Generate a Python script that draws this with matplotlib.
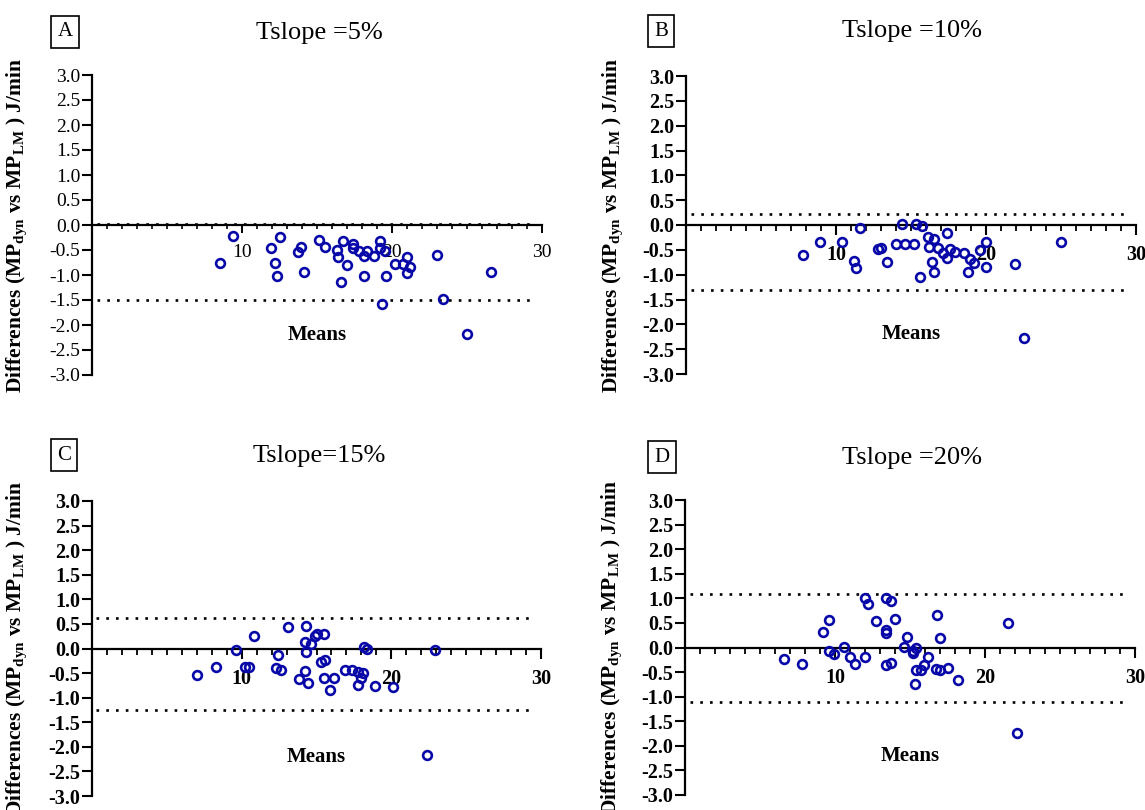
import matplotlib
matplotlib.use("Agg")
import matplotlib.pyplot as plt
from matplotlib.ticker import MultipleLocator, FixedLocator

plt.rcParams['font.family'] = ['Liberation Serif', 'DejaVu Serif']
plt.rcParams['mathtext.fontset'] = 'custom'
plt.rcParams['mathtext.rm'] = 'Liberation Serif'
plt.rcParams['mathtext.bf'] = 'Liberation Serif:bold'
plt.rcParams['mathtext.it'] = 'Liberation Serif:italic'

# ---------------- data ----------------
means_a = [8.5, 9.4, 11.9, 12.5, 12.2, 12.3, 13.7, 13.9, 14.1, 15.1, 15.5, 16.3, 16.4,
           16.6, 16.7, 17.0, 17.4, 17.4, 17.8, 18.1, 18.1, 18.3, 18.8, 19.2, 19.2, 19.5,
           19.3, 19.6, 20.2, 20.7, 21.0, 21.2, 21.0, 23.0, 23.4, 25.0, 26.6]
diffs_a = [-0.76, -0.22, -0.45, -0.24, -0.76, -1.01, -0.53, -0.43, -0.94, -0.30, -0.43,
           -0.50, -0.64, -1.14, -0.32, -0.79, -0.38, -0.45, -0.52, -0.61, -1.02, -0.52,
           -0.61, -0.32, -0.45, -0.52, -1.58, -1.02, -0.77, -0.77, -0.64, -0.84, -0.96,
           -0.59, -1.47, -2.17, -0.94]

means_b = [7.8, 8.9, 10.4, 11.2, 11.3, 11.6, 12.8, 13.0, 13.4, 14.0, 14.4, 14.6, 15.2,
           15.3, 15.6, 15.7, 16.1, 16.2, 16.4, 16.5, 16.5, 16.8, 17.1, 17.4, 17.4, 17.6,
           17.9, 18.5, 18.8, 18.9, 19.2, 19.6, 20.0, 20.0, 21.9, 22.5, 25.0]
diffs_b = [-0.60, -0.34, -0.34, -0.72, -0.86, -0.07, -0.49, -0.47, -0.74, -0.38, 0.02,
           -0.38, -0.38, 0.02, -1.04, -0.03, -0.25, -0.44, -0.74, -0.28, -0.94, -0.47,
           -0.56, -0.17, -0.67, -0.49, -0.55, -0.56, -0.94, -0.69, -0.77, -0.50, -0.35,
           -0.85, -0.79, -2.28, -0.35]

means_c = [7.0, 8.3, 9.6, 10.2, 10.5, 10.8, 12.4, 12.3, 12.6, 13.1, 13.8, 14.2, 14.2,
           14.3, 14.3, 14.4, 14.6, 14.9, 15.0, 15.3, 15.5, 15.6, 15.5, 15.9, 16.2, 16.9,
           17.4, 17.8, 17.8, 18.0, 18.1, 18.2, 18.4, 18.9, 20.1, 22.9, 22.4]
diffs_c = [-0.54, -0.38, -0.04, -0.38, -0.38, 0.26, -0.14, -0.39, -0.44, 0.43, -0.62,
           0.13, -0.45, 0.45, -0.08, -0.70, 0.10, 0.26, 0.30, -0.27, 0.29, -0.24, -0.60,
           -0.85, -0.59, -0.43, -0.43, -0.75, -0.48, -0.60, -0.50, 0.03, -0.01, -0.77,
           -0.79, -0.03, -2.17]

means_d = [6.6, 7.8, 9.2, 9.6, 9.6, 9.9, 10.6, 11.0, 11.3, 12.0, 12.2, 12.0, 12.7, 13.4,
           13.7, 13.4, 13.4, 13.4, 13.7, 14.0, 14.6, 14.8, 15.2, 15.2, 15.4, 15.3, 15.4,
           15.7, 15.9, 16.2, 16.7, 17.0, 16.8, 17.0, 17.5, 18.2, 21.5, 22.1]
diffs_d = [-0.24, -0.33, 0.31, 0.56, -0.08, -0.14, 0.01, -0.19, -0.33, 1.00, 0.88, -0.20,
           0.54, 1.00, 0.94, 0.35, 0.30, -0.35, -0.31, 0.57, 0.02, 0.22, -0.08, -0.11,
           -0.01, -0.74, -0.45, -0.45, -0.36, -0.19, -0.43, -0.45, 0.67, 0.20, -0.41,
           -0.66, 0.50, -1.74]

upper_loa = [0.02, 0.23, 0.63, 1.08]
lower_loa = [-1.50, -1.31, -1.25, -1.10]
titles = ["Tslope =5%", "Tslope =10%", "Tslope=15%", "Tslope =20%"]
letters = ["A", "B", "C", "D"]
y_ticks = [-3.0, -2.5, -2.0, -1.5, -1.0, -0.5, 0.0, 0.5, 1.0, 1.5, 2.0, 2.5, 3.0]
x_ticks = [10, 20, 30]
ylabel = r"Differences (MP$_\mathbf{dyn}$ vs MP$_\mathbf{LM}$ ) J/min"
xlabel = "Means"

all_means = [means_a, means_b, means_c, means_d]
all_diffs = [diffs_a, diffs_b, diffs_c, diffs_d]

# ---------------- layout ----------------
W, H = 1145, 810
fig = plt.figure(figsize=(W / 100, H / 100), dpi=100)

def px_rect(l, r, t, b):
    return [l / W, (H - b) / H, (r - l) / W, (b - t) / H]

rects = [px_rect(92, 542, 75, 375), px_rect(686, 1136, 76, 374),
         px_rect(92, 541, 501, 796), px_rect(685, 1135, 500, 795)]
title_pos = [(319, 33), (912, 31), (319, 456), (912, 458)]
box_pos = [(65, 32), (661, 31), (64, 455), (662, 457)]
ylabel_x = [29, 625, 29, 624]

blue = '#0808a8'

for i in range(4):
    ax = fig.add_axes(rects[i])
    bold = (i != 0)
    weight = 'bold' if bold else 'normal'

    ax.set_xlim(0, 30)
    ax.set_ylim(-3, 3)

    for s in ['top', 'right']:
        ax.spines[s].set_visible(False)
    ax.spines['left'].set_linewidth(1.6)
    ax.spines['bottom'].set_linewidth(1.6)
    ax.spines['bottom'].set_position(('data', 0))
    ax.spines['bottom'].set_bounds(0, 30)

    ax.yaxis.set_major_locator(FixedLocator(y_ticks))
    ax.set_yticklabels([f"{v:.1f}" for v in y_ticks], fontsize=14.5 if bold else 14,
                       fontweight=weight)
    ax.xaxis.set_major_locator(FixedLocator(x_ticks))
    ax.xaxis.set_minor_locator(MultipleLocator(1))
    ax.set_xticklabels([str(v) for v in x_ticks], fontsize=14.5 if bold else 14,
                       fontweight=weight)

    ax.tick_params(axis='y', direction='out', length=7, width=1.5, pad=1.5)
    if bold:
        ax.tick_params(axis='x', which='major', direction='out', length=7.5, width=1.5, pad=7)
        ax.tick_params(axis='x', which='minor', direction='out', length=4.5, width=1.3)
    else:
        ax.tick_params(axis='x', which='major', direction='out', length=5.5, width=1.4, pad=8)
        ax.tick_params(axis='x', which='minor', direction='out', length=3, width=1.2)

    ax.axhline(upper_loa[i], xmin=0.01, xmax=0.985, color='black', lw=1.9,
               linestyle=(0, (1, 2.7)), zorder=1)
    ax.axhline(lower_loa[i], xmin=0.01, xmax=0.985, color='black', lw=1.9,
               linestyle=(0, (1, 2.7)), zorder=1)

    ax.plot(all_means[i], all_diffs[i], linestyle='none', marker='o', ms=6.3,
            mfc='none', mec=blue, mew=1.9, clip_on=False, zorder=3)

    ax.text(15, -2.2, xlabel, ha='center', va='center', fontsize=15, fontweight='bold')

    ax.set_ylabel(ylabel, fontsize=15.5, fontweight='bold')
    ax.yaxis.set_label_coords((ylabel_x[i] - rects[i][0] * W) / (rects[i][2] * W), 0.5)

    tx, ty = title_pos[i]
    fig.text(tx / W, 1 - ty / H, titles[i], ha='center', va='center', fontsize=19)
    bx, by = box_pos[i]
    fig.text(bx / W, 1 - by / H, letters[i], ha='center', va='center', fontsize=15,
             bbox=dict(boxstyle='square,pad=0.3', fc='white', ec='black', lw=1.2))

fig.savefig('out.png', dpi=100)
